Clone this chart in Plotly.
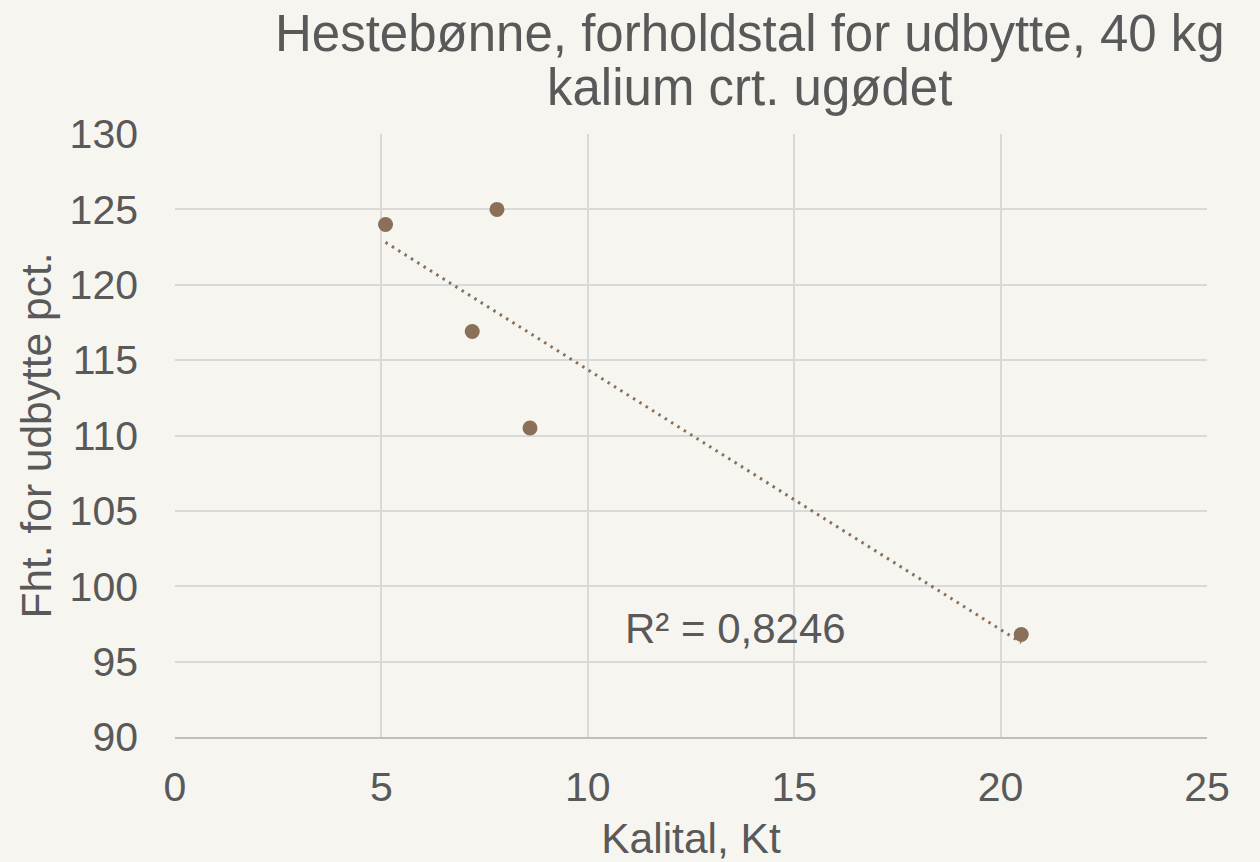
import numpy as np
import plotly.graph_objects as go

# Data
kalital = [5.1, 7.8, 7.2, 8.6, 20.5]
udbytte = [124.0, 125.0, 116.9, 110.5, 96.8]
x_ticks = [0, 5, 10, 15, 20, 25]
y_ticks = [90, 95, 100, 105, 110, 115, 120, 125, 130]
r2_label = "R² = 0,8246"
title_lines = ["Hestebønne, forholdstal for udbytte, 40 kg", "kalium crt. ugødet"]

BG = "#F7F5F0"
MARK = "#8B7059"
TXT = "#595959"
GRID = "#D9D9D9"
FONT = "Liberation Sans, Arial, sans-serif"

# linear trendline (least squares)
slope, intercept = np.polyfit(kalital, udbytte, 1)
tx = [min(kalital), max(kalital)]
ty = [slope * v + intercept for v in tx]

fig = go.Figure()
fig.add_trace(go.Scatter(
    x=tx, y=ty, mode="lines",
    line=dict(color=MARK, width=3, dash="2.5px,5px"),
    hoverinfo="skip", showlegend=False))
fig.add_trace(go.Scatter(
    x=kalital, y=udbytte, mode="markers",
    marker=dict(color=MARK, size=15),
    showlegend=False))

fig.add_annotation(x=13.57, y=97.2, xref="x", yref="y", text=r2_label,
                   showarrow=False, xanchor="center", yanchor="middle",
                   font=dict(size=42, color=TXT, family=FONT))

# two-line title
for line, shift in zip(title_lines, [101, 47]):
    fig.add_annotation(x=0.557, y=1, xref="paper", yref="paper", text=line,
                       showarrow=False, xanchor="center", yanchor="middle",
                       yshift=shift, font=dict(size=51, color=TXT, family=FONT))

fig.update_layout(
    width=1260, height=862,
    paper_bgcolor=BG, plot_bgcolor=BG,
    margin=dict(l=175, r=53, t=134, b=125, autoexpand=False),
    font=dict(family=FONT, color=TXT, size=41),
    xaxis=dict(range=[0, 25], tickvals=x_ticks, showgrid=True, gridcolor=GRID,
               gridwidth=1.5, zeroline=False, showline=True, linecolor="#BFBFBF",
               linewidth=2, ticks="", ticklabelstandoff=13, automargin=False,
               tickfont=dict(size=41, color=TXT),
               title=dict(text="Kalital, Kt", font=dict(size=42.5, color=TXT), standoff=23)),
    yaxis=dict(range=[90, 130], tickvals=y_ticks, showgrid=True, gridcolor=GRID,
               gridwidth=1.5, zeroline=False, showline=False, ticks="",
               ticklabelstandoff=36, automargin=False,
               tickfont=dict(size=41, color=TXT),
               title=dict(text="Fht. for udbytte pct.", font=dict(size=42.5, color=TXT), standoff=4)),
)

fig.write_html("out.html", config={"displayModeBar": False},
               post_script="document.body.style.margin='0';document.body.style.padding='0';")
